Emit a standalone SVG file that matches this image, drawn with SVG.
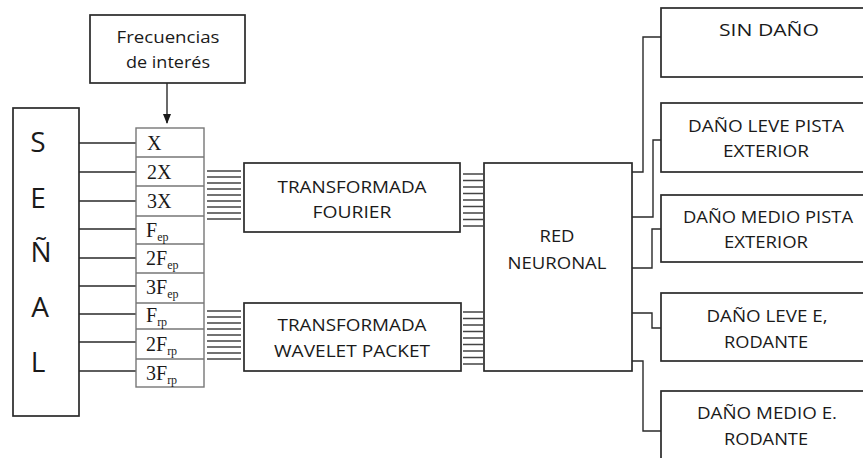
<svg xmlns="http://www.w3.org/2000/svg" width="863" height="458" viewBox="0 0 863 458">
<defs>
<style>
.box{fill:#fff;stroke:#2a2a2a;stroke-width:1.7}
.tbl{fill:#fff;stroke:#777;stroke-width:1.4}
.ln{fill:none;stroke:#2a2a2a;stroke-width:1.4}
.bd{fill:none;stroke:#444;stroke-width:1.5}
.t{font-family:"Open Sans","Liberation Sans",sans-serif;font-size:16px;fill:#1a1a1a;text-anchor:middle}
.big{font-family:"Open Sans","Liberation Sans",sans-serif;font-size:28px;fill:#1a1a1a;text-anchor:middle}
.s{font-family:"Liberation Serif","DejaVu Serif",serif;font-size:20px;fill:#1a1a1a}
.sub{font-size:12px}
</style>
<marker id="ah" markerWidth="10" markerHeight="10" refX="9" refY="5" orient="auto" markerUnits="userSpaceOnUse">
<path d="M0,1 L10,5 L0,9 Z" fill="#1a1a1a"/>
</marker>
</defs>
<rect width="863" height="458" fill="#fff"/>

<g id="connectors">
<path class="ln" d="M167,83 V123" marker-end="url(#ah)"/>
<path class="ln" d="M79,143 H136 M79,172 H136 M79,201 H136 M79,229 H136 M79,258 H136 M79,286 H136 M79,314 H136 M79,342 H136 M79,371 H136"/>
<path class="bd" d="M207,171 H241 M207,177 H241 M207,183 H241 M207,189 H241 M207,195 H241 M207,201 H241 M207,207 H241 M207,213 H241 M207,219 H241"/>
<path class="bd" d="M207,311 H241 M207,317 H241 M207,323 H241 M207,329 H241 M207,335 H241 M207,341 H241 M207,347 H241 M207,353 H241 M207,359 H241"/>
<path class="bd" d="M463,174 H483 M463,180.5 H483 M463,187 H483 M463,193.5 H483 M463,200 H483 M463,206.5 H483 M463,213 H483 M463,219.5 H483 M463,226 H483"/>
<path class="bd" d="M463,312 H483 M463,318.5 H483 M463,325 H483 M463,331.5 H483 M463,338 H483 M463,344.5 H483 M463,351 H483 M463,357.5 H483 M463,364 H483"/>
<path class="ln" d="M632,172 H643 V37 H661"/>
<path class="ln" d="M632,217 H653 V140 H661"/>
<path class="ln" d="M632,268 H652 V229 H661"/>
<path class="ln" d="M632,313 H652 V328 H661"/>
<path class="ln" d="M632,361 H643 V431 H661"/>
</g>

<g id="frecuencias">
<rect class="box" x="90" y="15" width="155" height="68"/>
<text class="t" x="168" y="43" textLength="103" lengthAdjust="spacingAndGlyphs">Frecuencias</text>
<text class="t" x="168" y="68" textLength="84" lengthAdjust="spacingAndGlyphs">de interés</text>
</g>

<g id="senal">
<rect class="box" x="13" y="108" width="66" height="308"/>
<text class="big" x="38" y="152">S</text>
<text class="big" x="38" y="208">E</text>
<text class="big" x="41" y="262">Ñ</text>
<text class="big" x="40" y="317">A</text>
<text class="big" x="38" y="372">L</text>
</g>

<g id="tabla">
<rect class="tbl" x="136" y="128" width="68" height="259"/>
<path class="tbl" d="M136,157 H204 M136,186 H204 M136,216 H204 M136,244 H204 M136,273 H204 M136,303 H204 M136,329 H204 M136,359 H204"/>
<text class="s" x="147" y="150">X</text>
<text class="s" x="147" y="179">2X</text>
<text class="s" x="147" y="208">3X</text>
<text class="s" x="146" y="237">F<tspan class="sub" dy="4">ep</tspan></text>
<text class="s" x="146" y="265">2F<tspan class="sub" dy="4">ep</tspan></text>
<text class="s" x="146" y="294">3F<tspan class="sub" dy="4">ep</tspan></text>
<text class="s" x="146" y="322">F<tspan class="sub" dy="4">rp</tspan></text>
<text class="s" x="146" y="351">2F<tspan class="sub" dy="4">rp</tspan></text>
<text class="s" x="146" y="380">3F<tspan class="sub" dy="4">rp</tspan></text>
</g>

<g id="fourier">
<rect class="box" x="244" y="163" width="216" height="69"/>
<text class="t" x="352" y="193" textLength="149" lengthAdjust="spacingAndGlyphs">TRANSFORMADA</text>
<text class="t" x="352" y="218" textLength="79" lengthAdjust="spacingAndGlyphs">FOURIER</text>
</g>

<g id="wavelet">
<rect class="box" x="244" y="303" width="217" height="68"/>
<text class="t" x="352" y="331" textLength="149" lengthAdjust="spacingAndGlyphs">TRANSFORMADA</text>
<text class="t" x="352" y="357" textLength="156" lengthAdjust="spacingAndGlyphs">WAVELET PACKET</text>
</g>

<g id="red">
<rect class="box" x="484" y="163" width="148" height="208"/>
<text class="t" x="557" y="242" textLength="35" lengthAdjust="spacingAndGlyphs">RED</text>
<text class="t" x="557" y="269" textLength="99" lengthAdjust="spacingAndGlyphs">NEURONAL</text>
</g>

<g id="out1">
<rect class="box" x="661" y="8" width="210" height="69"/>
<text class="t" x="769" y="36" textLength="100" lengthAdjust="spacingAndGlyphs">SIN DAÑO</text>
</g>
<g id="out2">
<rect class="box" x="661" y="103" width="210" height="69"/>
<text class="t" x="766" y="132" textLength="156" lengthAdjust="spacingAndGlyphs">DAÑO LEVE PISTA</text>
<text class="t" x="766" y="157" textLength="86" lengthAdjust="spacingAndGlyphs">EXTERIOR</text>
</g>
<g id="out3">
<rect class="box" x="661" y="195" width="210" height="67"/>
<text class="t" x="768" y="223" textLength="170" lengthAdjust="spacingAndGlyphs">DAÑO MEDIO PISTA</text>
<text class="t" x="766" y="248" textLength="84" lengthAdjust="spacingAndGlyphs">EXTERIOR</text>
</g>
<g id="out4">
<rect class="box" x="661" y="293" width="210" height="68"/>
<text class="t" x="767" y="322" textLength="121" lengthAdjust="spacingAndGlyphs">DAÑO LEVE E,</text>
<text class="t" x="766" y="348" textLength="84" lengthAdjust="spacingAndGlyphs">RODANTE</text>
</g>
<g id="out5">
<rect class="box" x="661" y="391" width="210" height="80"/>
<text class="t" x="767" y="419" textLength="140" lengthAdjust="spacingAndGlyphs">DAÑO MEDIO E.</text>
<text class="t" x="766" y="445" textLength="84" lengthAdjust="spacingAndGlyphs">RODANTE</text>
</g>
</svg>
